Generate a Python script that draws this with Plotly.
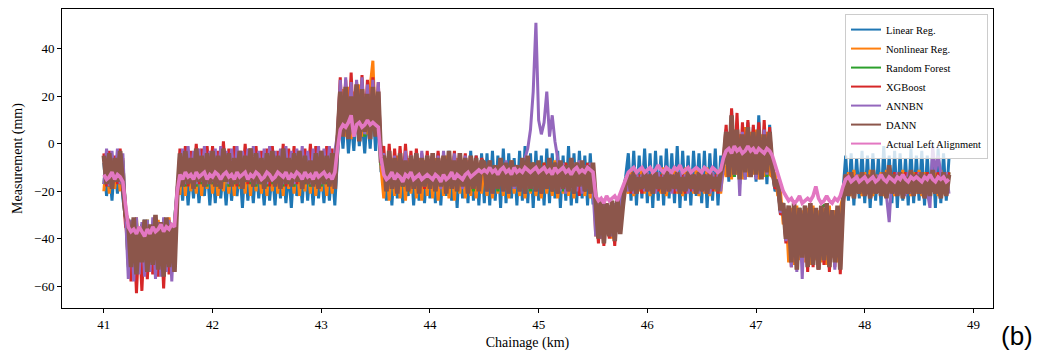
import plotly.graph_objects as go

START_KM = 41.0
STEP_KM = 0.025

linear_reg = [
    -8, -22, -10, -24, -7, -21, -9, -23, -32, -34, -50, -33, -52, -36, -48, -32, -51, -35, -49, -33,
    -50, -34, -52, -33, -49, -35, -51, -24, -10, -24, -9, -26, -11, -23, -8, -25, -12, -22, -9, -26,
    -10, -25, -8, -23, -11, -26, -9, -24, -12, -22, -10, -27, -8, -24, -11, -25, -9, -23, -12, -26,
    -9, -24, -11, -26, -8, -23, -10, -25, -12, -27, -9, -22, -11, -25, -8, -24, -10, -26, -9, -23,
    -11, -25, -9, -24, -10, -26, -5, 12, -2, 14, -4, 10, -3, 15, -1, 11, -4, 13, -2, 16,
    -3, 12, -12, -8, -24, -10, -26, -7, -23, -9, -25, -11, -22, -8, -26, -10, -24, -7, -25, -9,
    -23, -5, -25, -4, -26, -6, -22, -3, -24, -5, -27, -4, -23, -6, -25, -3, -24, -5, -26, -4,
    -25, -4, -26, -3, -24, -5, -27, -2, -25, -4, -23, -6, -26, -3, -24, -1, -25, -4, -27, -3,
    -24, -5, -26, -2, -25, -4, -23, -3, -27, -5, -24, -1, -26, -4, -25, -3, -23, -5, -26, -4,
    -25, -25, -37, -24, -38, -26, -36, -25, -38, -24, -35, -22, -14, -4, -24, -3, -26, -5, -23, -2,
    -25, -4, -27, -3, -24, -5, -26, -2, -23, -4, -25, -1, -27, -3, -24, -5, -26, -3, -22, -4,
    -25, -3, -27, -4, -24, -2, -26, -5, -12, 6, -16, 14, -14, 8, -17, 5, -15, 9, -13, 7,
    -16, 12, -14, 6, -17, 8, -12, -20, -18, -30, -26, -40, -27, -46, -26, -48, -28, -44, -27, -47,
    -26, -45, -28, -48, -27, -44, -26, -47, -29, -45, -27, -46, -20, -5, -24, -4, -26, -6, -23, -3,
    -25, -5, -27, -4, -24, -6, -26, -1, -23, -5, -25, -3, -27, -4, -24, -6, -26, -2, -25, -5,
    -24, -3, -26, -5, -23, -4, -27, -2, -25, -4, -24, -6,
]

nonlinear_reg = [
    -20, -6, -21, -8, -19, -7, -20, -6, -31, -51, -33, -53, -31, -50, -34, -52, -32, -49, -33, -53,
    -32, -51, -34, -52, -31, -50, -33, -21, -21, -7, -22, -6, -20, -8, -21, -5, -22, -7, -19, -6,
    -21, -8, -22, -6, -20, -7, -21, -9, -22, -6, -19, -8, -21, -7, -22, -5, -20, -8, -21, -6,
    -22, -7, -20, -6, -21, -8, -22, -5, -19, -7, -21, -6, -22, -8, -20, -7, -21, -6, -22, -8,
    -20, -7, -22, -6, -21, -8, 0, 4, 23, 3, 24, 2, 22, 5, 25, 3, 21, 4, 24, 35,
    4, 22, -10, -23, -6, -24, -8, -22, -5, -23, -7, -24, -6, -21, -8, -23, -6, -24, -7, -22,
    -7, -23, -6, -24, -8, -22, -5, -23, -7, -24, -6, -21, -8, -23, -7, -22, -9, -23, -8, -21,
    -9, -22, -8, -23, -10, -21, -8, -22, -9, -23, -7, -21, -10, -22, -8, -23, -9, -21, -8, -22,
    -10, -23, -8, -21, -9, -22, -7, -23, -10, -21, -8, -22, -9, -23, -8, -21, -10, -22, -9, -23,
    -9, -39, -25, -40, -24, -38, -26, -40, -25, -37, -24, -20, -16, -21, -11, -22, -12, -20, -10, -21,
    -12, -22, -11, -20, -13, -21, -10, -22, -12, -20, -11, -21, -13, -22, -10, -20, -12, -21, -11, -22,
    -13, -21, -10, -22, -12, -20, -11, -21, -9, -14, 5, -15, 6, -13, 4, -15, 7, -14, 5, -13,
    6, -15, 4, -14, 5, -13, -14, -12, -22, -20, -34, -28, -50, -27, -51, -26, -49, -28, -50, -27,
    -51, -26, -49, -28, -50, -27, -51, -26, -48, -28, -50, -27, -22, -21, -12, -22, -11, -20, -13, -22,
    -12, -21, -11, -22, -13, -20, -12, -22, -11, -21, -13, -22, -12, -20, -11, -21, -13, -22, -12, -21,
    -11, -22, -12, -21, -13, -20, -12, -22, -11, -21, -20, -20,
]

random_forest = [
    -17, -5, -18, -6, -16, -5, -17, -7, -29, -52, -32, -53, -33, -50, -34, -52, -32, -51, -33, -53,
    -33, -52, -32, -50, -34, -53, -32, -20, -17, -5, -18, -4, -16, -6, -18, -5, -17, -4, -18, -6,
    -17, -5, -18, -4, -16, -6, -18, -5, -17, -4, -18, -6, -16, -5, -17, -4, -18, -6, -17, -5,
    -18, -4, -17, -6, -16, -5, -18, -4, -17, -6, -18, -5, -16, -4, -17, -6, -18, -5, -17, -4,
    -18, -5, -17, -4, -16, -6, 2, 23, 4, 22, 3, 24, 5, 21, 4, 23, 3, 22, 5, 24,
    4, 21, -9, -6, -20, -5, -19, -7, -20, -6, -18, -5, -20, -7, -19, -6, -20, -5, -18, -7,
    -19, -6, -20, -5, -18, -7, -20, -6, -19, -5, -20, -7, -18, -6, -19, -8, -20, -7, -19, -8,
    -9, -20, -8, -19, -9, -20, -8, -18, -9, -20, -8, -19, -9, -20, -8, -19, -9, -20, -8, -19,
    -9, -20, -8, -19, -9, -20, -8, -18, -9, -20, -8, -19, -9, -20, -8, -19, -9, -20, -8, -19,
    -9, -25, -38, -24, -39, -25, -37, -24, -39, -25, -36, -21, -15, -13, -20, -12, -19, -13, -20, -12,
    -19, -13, -20, -12, -19, -13, -20, -12, -19, -13, -20, -12, -19, -13, -20, -12, -19, -13, -20, -12,
    -19, -13, -20, -12, -19, -13, -20, -12, -8, 4, -13, 3, -14, 4, -12, 3, -14, 4, -13, 3,
    -14, 4, -13, 3, -14, 4, -9, -17, -16, -27, -26, -38, -27, -50, -28, -51, -27, -49, -28, -50,
    -27, -51, -28, -49, -27, -26, -26, -51, -28, -49, -27, -50, -24, -13, -21, -12, -20, -13, -21, -12,
    -20, -13, -21, -12, -20, -13, -21, -12, -20, -13, -21, -12, -20, -13, -21, -12, -20, -13, -21, -12,
    -20, -13, -21, -12, -20, -13, -21, -12, -20, -13, -21, -12,
]

xgboost = [
    -4, -18, -3, -19, -5, -17, -2, -18, -35, -36, -58, -35, -63, -38, -62, -36, -57, -37, -55, -34,
    -56, -35, -61, -36, -55, -34, -53, -23, -2, -17, -1, -18, -3, -16, 0, -17, -2, -18, -1, -16,
    -1, -17, -3, -18, 1, -16, -2, -17, -1, -18, -3, -16, 0, -17, -2, -18, -1, -16, -3, -17,
    -2, -18, -1, -16, -3, -17, 0, -18, -2, -16, -1, -17, -3, -18, -2, -16, 0, -17, -1, -18,
    -3, -16, -1, -17, -2, -18, 5, 28, 5, 27, 6, 30, 4, 26, 5, 29, 6, 27, 5, 28,
    6, 26, -5, -1, -19, 0, -18, -2, -19, -1, -17, 0, -18, -3, -19, -2, -18, -4, -19, -3,
    -18, -4, -19, -3, -17, -5, -19, -4, -18, -3, -19, -5, -17, -4, -18, -6, -19, -5, -18, -6,
    -9, -20, -8, -21, -9, -19, -8, -20, -9, -21, -8, -19, -9, -20, -8, -21, -9, -19, -8, -20,
    -9, -21, -8, -19, -9, -20, -8, -21, -9, -19, -8, -20, -9, -21, -8, -22, -9, -20, -8, -21,
    -9, -25, -42, -24, -43, -26, -40, -25, -43, -24, -38, -22, -17, -13, -21, -12, -20, -13, -21, -12,
    -20, -13, -21, -12, -20, -13, -21, -12, -20, -13, -21, -12, -20, -13, -21, -12, -20, -13, -21, -12,
    -20, -13, -21, -12, -20, -13, -21, -12, -7, 8, -13, 15, -12, 13, -14, 9, -13, 10, -12, 8,
    -14, 9, -13, 10, -12, 7, -12, -19, -17, -30, -27, -42, -28, -52, -27, -53, -29, -50, -28, -54,
    -27, -52, -28, -53, -27, -51, -29, -54, -28, -52, -27, -55, -26, -13, -21, -12, -22, -13, -20, -12,
    -21, -13, -22, -12, -20, -13, -21, -12, -22, -13, -20, -12, -21, -13, -22, -12, -20, -13, -21, -12,
    -21, -13, -22, -12, -20, -13, -21, -12, -22, -13, -20, -12,
]

annbn = [
    -17, -2, -18, -3, -16, -2, -17, -4, -30, -57, -32, -58, -31, -55, -33, -56, -32, -54, -31, -57,
    -33, -56, -31, -54, -32, -58, -33, -18, -16, -2, -17, -1, -15, -3, -17, -2, -16, -1, -17, -3,
    -16, -2, -17, -1, -15, -3, -17, -2, -16, -1, -17, -3, -15, -2, -16, -1, -17, -3, -16, -2,
    -17, -1, -16, -3, -15, -2, -17, -1, -16, -3, -17, -2, -15, -1, -16, -3, -17, -2, -16, -1,
    -17, -2, -16, -1, -15, -3, 4, 27, 5, 28, 4, 26, 6, 27, 5, 28, 4, 25, 6, 27,
    5, 26, -7, -4, -19, -3, -18, -5, -19, -4, -17, -3, -19, -5, -18, -4, -19, -3, -18, -5,
    -19, -4, -18, -5, -19, -3, -17, -5, -19, -4, -18, -6, -19, -5, -17, -7, -19, -6, -18, -7,
    -8, -20, -7, -21, -9, -19, -8, -20, -7, -21, -8, -19, -9, -20, -7, -6, -2, 6, 22, 51,
    10, 4, 9, 22, 3, 12, 1, -6, -20, -8, -21, -9, -19, -8, -20, -7, -21, -9, -19, -8,
    -20, -39, -25, -40, -24, -38, -26, -39, -25, -37, -24, -21, -16, -20, -13, -21, -12, -19, -13, -20,
    -12, -20, -13, -21, -12, -19, -13, -20, -12, -21, -13, -20, -12, -19, -13, -21, -12, -20, -13, -21,
    -12, -20, -13, -21, -12, -19, -13, -20, -10, 5, -14, 6, -13, 4, -22, 5, -15, 6, -14, 4,
    -15, 5, -14, 6, -13, 4, -11, -18, -16, -29, -27, -41, -28, -52, -29, -54, -28, -57, -27, -51,
    -28, -50, -29, -52, -27, -49, -28, -51, -29, -53, -28, -50, -22, -13, -21, -12, -22, -13, -20, -12,
    -21, -13, -22, -12, -20, -13, -21, -12, -22, -33, -13, -21, -12, -20, -13, -22, -12, -21, -13, -20,
    -12, -21, -13, -20, -27, -1, -12, -5, -13, -20, -12, -21,
]

dann = [
    -5, -17, -4, -19, -6, -16, -3, -18, -30, -33, -52, -31, -55, -35, -50, -32, -54, -34, -51, -30,
    -53, -33, -56, -31, -52, -34, -54, -22, -4, -18, -3, -17, -6, -19, -2, -16, -5, -18, -4, -17,
    -3, -18, -5, -19, -2, -16, -4, -18, -6, -17, -3, -19, -5, -16, -2, -18, -4, -17, -6, -19,
    -4, -16, -3, -18, -5, -19, -2, -17, -6, -18, -4, -16, -3, -19, -5, -17, -7, -18, -4, -19,
    -3, -17, -5, -18, -4, -19, 3, 22, 3, 24, 2, 20, 4, 25, 1, 23, 5, 21, 2, 24,
    3, 22, -8, -5, -20, -3, -19, -6, -21, -4, -18, -7, -20, -5, -19, -4, -21, -6, -18, -5,
    -19, -4, -20, -6, -18, -5, -21, -3, -19, -7, -20, -4, -18, -6, -21, -5, -19, -6, -20, -7,
    -8, -20, -7, -21, -9, -19, -6, -20, -8, -21, -7, -18, -9, -20, -6, -21, -5, -19, -8, -20,
    -7, -21, -9, -19, -6, -20, -8, -21, -7, -19, -9, -20, -6, -21, -8, -18, -7, -20, -9, -21,
    -8, -24, -40, -23, -42, -25, -39, -24, -41, -23, -38, -26, -16, -13, -20, -12, -21, -14, -19, -11,
    -20, -13, -21, -12, -19, -14, -21, -11, -20, -13, -19, -12, -21, -14, -20, -12, -19, -13, -21, -12,
    -20, -13, -21, -12, -19, -14, -20, -12, -8, 5, -14, 12, -13, 6, -15, 4, -12, 7, -14, 5,
    -13, 6, -15, 4, -12, 5, -10, -18, -15, -28, -25, -40, -26, -50, -25, -53, -27, -48, -26, -52,
    -25, -51, -27, -53, -26, -49, -25, -52, -28, -50, -26, -53, -25, -13, -22, -12, -23, -14, -21, -12,
    -22, -13, -23, -11, -21, -14, -22, -12, -23, -9, -21, -13, -22, -12, -23, -14, -21, -11, -22, -13,
    -21, -12, -23, -13, -22, -11, -21, -14, -23, -12, -22, -13,
]

actual_left = [
    -13, -15, -14, -12, -15, -13, -14, -16, -26, -35, -37, -36, -38, -35, -37, -39, -36, -38, -35, -37,
    -36, -34, -37, -35, -36, -34, -35, -20, -13, -15, -12, -14, -13, -15, -12, -14, -13, -12, -15, -13,
    -14, -12, -13, -15, -13, -12, -14, -13, -15, -12, -14, -13, -12, -15, -13, -14, -12, -13, -15, -14,
    -12, -13, -15, -14, -12, -13, -14, -12, -15, -13, -14, -12, -13, -15, -12, -14, -13, -15, -12, -14,
    -13, -12, -14, -13, -15, -12, -2, 6, 8, 7, 9, 12, 3, 8, 9, 7, 8, 10, 8, 9,
    8, 7, -6, -13, -15, -14, -12, -15, -13, -14, -16, -13, -14, -12, -15, -14, -13, -15, -14, -13,
    -14, -15, -13, -14, -16, -13, -15, -14, -12, -15, -13, -14, -15, -13, -12, -14, -13, -12, -11, -12,
    -11, -12, -10, -12, -11, -13, -11, -10, -12, -11, -13, -10, -12, -11, -12, -10, -11, -12, -11, -10,
    -12, -11, -10, -12, -11, -13, -10, -12, -11, -10, -12, -11, -13, -11, -10, -12, -11, -12, -10, -11,
    -12, -22, -24, -23, -25, -22, -24, -23, -22, -24, -21, -18, -14, -12, -11, -10, -12, -11, -10, -12,
    -11, -10, -12, -11, -9, -11, -12, -10, -11, -12, -10, -11, -9, -12, -11, -10, -12, -11, -10, -11,
    -12, -10, -11, -12, -10, -11, -12, -11, -6, -3, -2, -4, -1, -3, -2, -4, -3, -1, -3, -2,
    -4, -2, -3, -4, -2, -3, -5, -9, -13, -17, -20, -22, -24, -23, -25, -24, -22, -25, -24, -23,
    -24, -22, -18, -23, -25, -24, -22, -24, -25, -23, -24, -22, -18, -15, -14, -16, -15, -14, -16, -15,
    -14, -16, -15, -14, -16, -15, -13, -15, -16, -14, -15, -16, -14, -15, -13, -15, -16, -14, -15, -14,
    -15, -16, -14, -15, -13, -15, -16, -14, -15, -14, -16, -15,
]

series_names = ["Linear Reg.", "Nonlinear Reg.", "Random Forest", "XGBoost",
                "ANNBN", "DANN", "Actual Left Alignment"]
series_values = [linear_reg, nonlinear_reg, random_forest, xgboost, annbn, dann, actual_left]
series_colors = ["#1f77b4", "#ff7f0e", "#2ca02c", "#d62728", "#9467bd", "#8c564b", "#e377c2"]
series_widths = [3.0, 3.0, 3.0, 3.0, 3.0, 4.6, 3.6]

x_ticks = [41, 42, 43, 44, 45, 46, 47, 48, 49]
y_ticks = [-60, -40, -20, 0, 20, 40]

n = len(dann)
chainage = [START_KM + STEP_KM * i for i in range(n)]

fig = go.Figure()
for name, vals, col, w in zip(series_names, series_values, series_colors, series_widths):
    # the data trace (thick enough that the dense noise reads as a filled band)
    fig.add_trace(go.Scatter(x=chainage[:len(vals)], y=vals, mode="lines", name=name,
                             line=dict(color=col, width=w), showlegend=False,
                             legendgroup=name))
for name, col in zip(series_names, series_colors):
    # legend entry with the thin line of the original legend
    fig.add_trace(go.Scatter(x=[None], y=[None], mode="lines", name=name,
                             line=dict(color=col, width=2), legendgroup=name))

SERIF = "Liberation Serif, Times New Roman, serif"

fig.update_layout(
    width=1041, height=358,
    margin=dict(l=62, r=48, t=9, b=50),
    paper_bgcolor="white", plot_bgcolor="white",
    font=dict(family=SERIF, size=13, color="black"),
    showlegend=True,
    legend=dict(x=0.9946, y=0.983, xanchor="right", yanchor="top",
                bgcolor="rgba(255,255,255,0.8)", bordercolor="#cccccc", borderwidth=1,
                font=dict(family=SERIF, size=10.5, color="black"),
                tracegroupgap=0, itemwidth=30),
    annotations=[dict(text="(b)", xref="paper", yref="paper", x=1.0258, y=-0.094,
                      xanchor="center", yanchor="middle", showarrow=False,
                      font=dict(family="Liberation Sans, Arial, sans-serif", size=26, color="black"))],
)
fig.update_xaxes(range=[40.615, 49.18], tickvals=x_ticks, ticktext=[str(t) for t in x_ticks],
                 showgrid=False, zeroline=False, showline=True, linecolor="black", linewidth=1,
                 mirror=True, ticks="outside", ticklen=4, tickcolor="black",
                 title=dict(text="Chainage (km)", font=dict(family=SERIF, size=14), standoff=6),
                 automargin=False)
fig.update_yaxes(range=[-69.2, 56.8], tickvals=y_ticks,
                 showgrid=False, zeroline=False, showline=True, linecolor="black", linewidth=1,
                 mirror=True, ticks="outside", ticklen=4, tickcolor="black",
                 title=dict(text="Measurement (mm)", font=dict(family=SERIF, size=14), standoff=8),
                 automargin=False)

fig.write_html("out.html", config={"displayModeBar": False},
               post_script="document.body.style.margin='0px';")
